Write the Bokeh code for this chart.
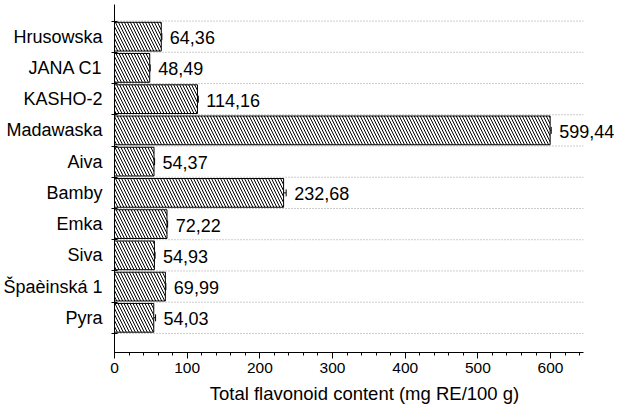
from bokeh.plotting import figure
from bokeh.models import (ColumnDataSource, Range1d, FixedTicker, SingleIntervalTicker,
                          Whisker, TeeHead, LabelSet)
from bokeh.core.properties import value
from bokeh.embed import file_html
from bokeh.resources import INLINE

# ---- data (top to bottom as shown) ----
cultivars = ["Hrusowska", "JANA C1", "KASHO-2", "Madawaska", "Aiva",
             "Bamby", "Emka", "Siva", "Špaèinská 1", "Pyra"]
flavonoids = [64.36, 48.49, 114.16, 599.44, 54.37, 232.68, 72.22, 54.93, 69.99, 54.03]
errors = [0.8, 0.6, 1.2, 1.5, 0.8, 3.5, 0.9, 0.9, 0.7, 2.5]
x_ticks = [0, 100, 200, 300, 400, 500, 600]
x_axis_end = 645
x_title = "Total flavonoid content (mg RE/100 g)"

n = len(cultivars)
ypos = [n - i for i in range(n)]
src = ColumnDataSource(dict(
    y=ypos, val=flavonoids, lo=[v - e for v, e in zip(flavonoids, errors)],
    hi=[v + e for v, e in zip(flavonoids, errors)],
    lab=[f"{v:.2f}".replace(".", ",") for v in flavonoids],
))
bounds = [i + 0.5 for i in range(n + 1)]

FONT = "Liberation Sans"

p = figure(width=614, height=410, output_backend="svg", toolbar_location=None,
           x_range=Range1d(0, 688), y_range=Range1d(-0.11, n + 1.03),
           min_border_left=112, min_border_right=0, min_border_top=4,
           min_border_bottom=58)
p.outline_line_color = None
p.background_fill_color = "white"
p.border_fill_color = "white"

# dotted guide lines at category boundaries, ending with the axis
p.segment(x0=[0] * len(bounds), x1=[x_axis_end] * len(bounds), y0=bounds, y1=bounds,
          line_color="#9a9a9a", line_dash="1 2", line_width=1)

p.hbar(y="y", right="val", left=0, height=0.92, source=src,
       fill_color="white", line_color="black", line_width=1,
       hatch_pattern="\\", hatch_color="black", hatch_weight=1, hatch_scale=6)

w = Whisker(base="y", lower="lo", upper="hi", source=src, dimension="width",
            line_color="black", line_width=1,
            lower_head=TeeHead(size=7, line_color="black", line_width=1),
            upper_head=TeeHead(size=7, line_color="black", line_width=1))
p.add_layout(w)

labels = LabelSet(x="hi", y="y", text="lab", source=src, x_offset=8, y_offset=-1,
                  text_baseline="middle", text_align="left",
                  text_font=value(FONT), text_font_size="18px", text_color="black")
p.add_layout(labels)

# x axis
xa = p.xaxis[0]
xa.ticker = SingleIntervalTicker(interval=100, num_minor_ticks=5)
xa.bounds = (0, x_axis_end)
xa.axis_label = x_title
xa.axis_label_text_font = FONT
xa.axis_label_text_font_size = "18.5px"
xa.axis_label_text_font_style = "normal"
xa.axis_label_text_color = "black"
xa.axis_label_standoff = 7
xa.major_label_text_font = FONT
xa.major_label_text_font_size = "15.5px"
xa.major_label_text_color = "black"
xa.major_label_standoff = 4
xa.major_tick_in = 0
xa.major_tick_out = 6
xa.minor_tick_in = 0
xa.minor_tick_out = 3
xa.axis_line_color = "black"
xa.major_tick_line_color = "black"
xa.minor_tick_line_color = "black"

# y axis: category names at centres, ticks at boundaries
ya = p.yaxis[0]
ya.ticker = FixedTicker(ticks=ypos, minor_ticks=bounds)
ya.major_label_overrides = {y: c for y, c in zip(ypos, cultivars)}
ya.major_tick_in = 0
ya.major_tick_out = 0
ya.major_tick_line_color = None
ya.minor_tick_in = 3
ya.minor_tick_out = 3
ya.minor_tick_line_color = "black"
ya.major_label_standoff = 9
ya.major_label_text_font = FONT
ya.major_label_text_font_size = "18px"
ya.major_label_text_color = "black"
ya.axis_line_color = "black"

p.xgrid.visible = False
p.ygrid.visible = False

open("out.html", "w").write(file_html(p, INLINE))
